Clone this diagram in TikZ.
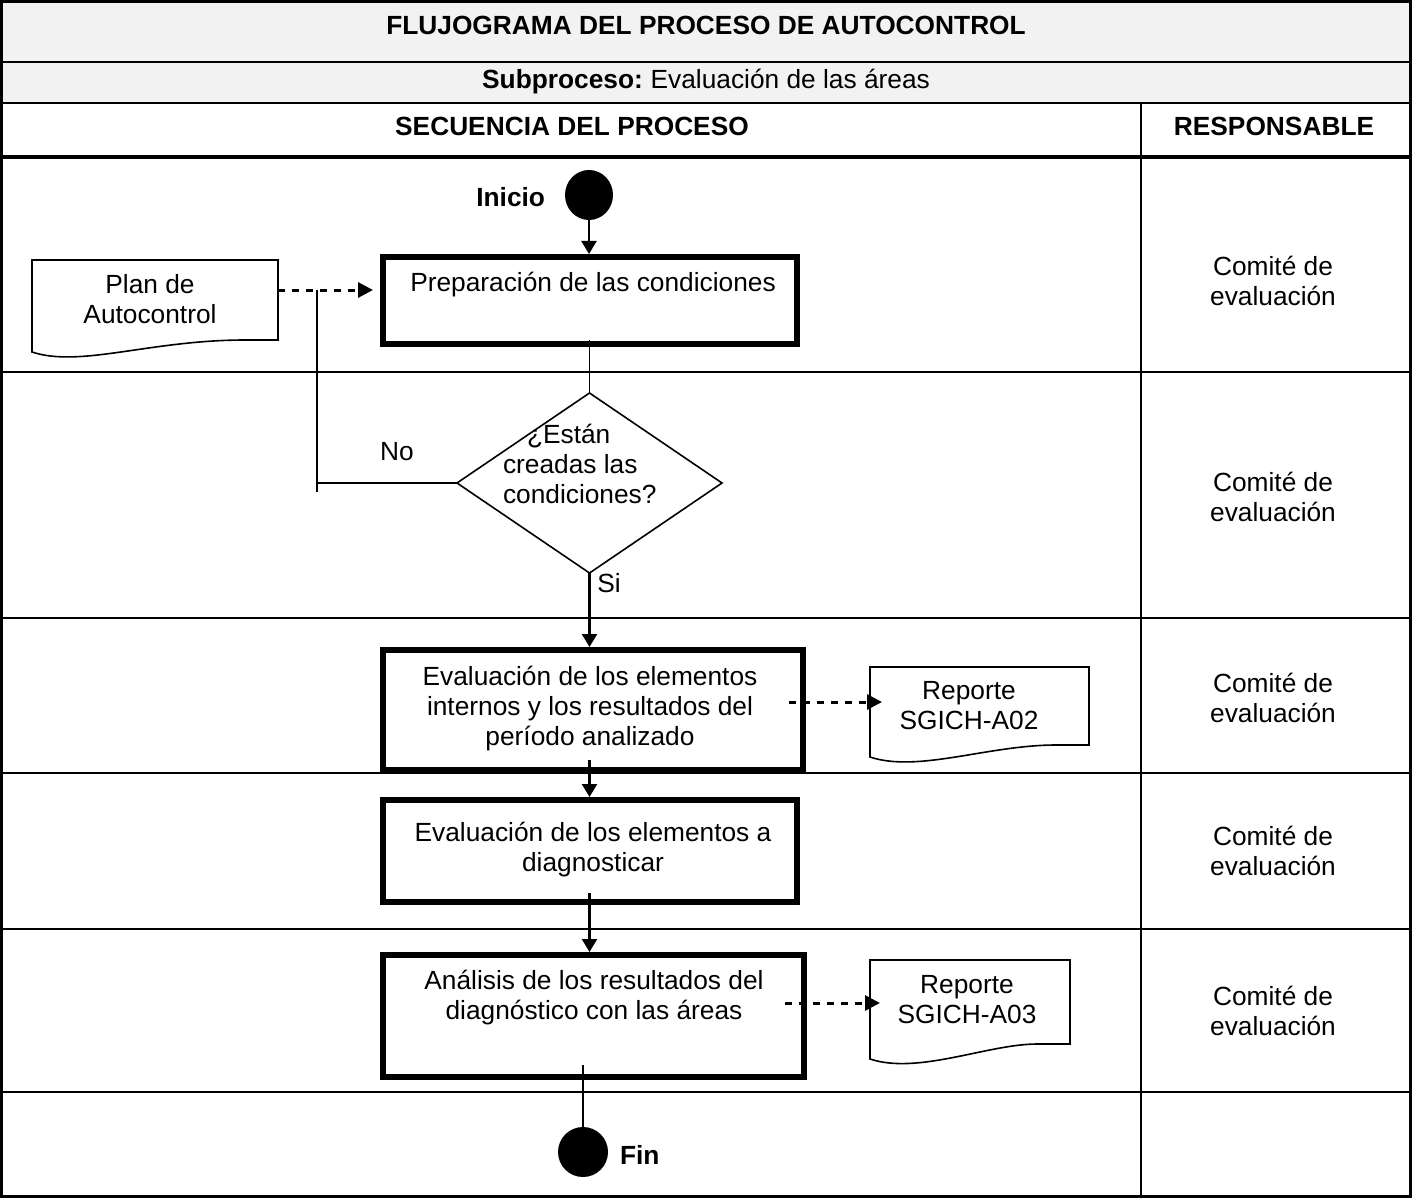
\documentclass[tikz,border=0pt]{standalone}
\usepackage{fontspec}
\setmainfont{Liberation Sans}
\usetikzlibrary{shapes.geometric,calc,arrows.meta}

\definecolor{headgray}{RGB}{242,242,242}

\begin{document}
\begin{tikzpicture}[x=1pt,y=-1pt,
  every node/.style={font=\fontsize{26.3}{30}\selectfont, inner sep=0pt, outer sep=0pt, align=center},
  bold/.style={font=\fontsize{26.3}{30}\selectfont\bfseries},
  gridline/.style={line width=2.4pt},
  stepbox/.style={draw, rectangle, line width=6pt, outer sep=3pt},
  docshape/.style={rectangle, draw=none},
  docline/.style={line width=1.6pt, line join=miter},
  decision/.style={draw, diamond, line width=1.6pt, inner sep=0pt},
  terminal/.style={ellipse, fill=black, draw=none},
  flow/.style={line width=2.3pt, -{Triangle[length=13pt,width=15pt]}},
  dflow/.style={line width=3pt, dash pattern=on 7pt off 7pt, -{Triangle[length=15pt,width=15pt]}},
  plainline/.style={line width=1.6pt},
]
\useasboundingbox (0,0) rectangle (1412,1198);

% ---------- table ----------
\fill[headgray] (0,0) rectangle (1412,103);
\draw[line width=3pt] (1.5,1.5) rectangle (1410.5,1196.5);
\draw[line width=2.6pt] (0,62) -- (1412,62);
\draw[line width=2.6pt] (0,103) -- (1412,103);
\draw[line width=4pt] (0,157) -- (1412,157);
\draw[gridline] (1141,103) -- (1141,1198);
\foreach \yy in {372,618,773,929,1092}
  \draw[gridline] (0,\yy) -- (1412,\yy);

\node[bold] (title) at (706,25) {FLUJOGRAMA DEL PROCESO DE AUTOCONTROL};
\node (sub) at (706,82) {\textbf{Subproceso:}\hspace{-2pt} Evaluación de las áreas};
\node[bold] (hseq) at (572,126) {SECUENCIA DEL PROCESO};
\node[bold] (hresp) at (1274,126) {RESPONSABLE};

% ---------- responsible ----------
\node (r1) at (1273,281) {Comité de\\evaluación};
\node (r2) at (1273,497) {Comité de\\evaluación};
\node (r3) at (1273,698) {Comité de\\evaluación};
\node (r4) at (1273,851) {Comité de\\evaluación};
\node (r5) at (1273,1011) {Comité de\\evaluación};

% ---------- flow ----------
\node[terminal, minimum width=48pt, minimum height=50pt] (inicio) at (589,195) {};
\node[bold, anchor=east] (inicioL) at (545,197) {Inicio};

\node[stepbox, minimum width=414pt, minimum height=87pt] (box1) at (590,300.5) {};
\node (t1) at (593,285) {Preparación de las condiciones};

\node[docshape, minimum width=246pt, minimum height=80pt] (plan) at (155,300) {};
\node (plant) at (150,299) {Plan de\\Autocontrol};

\node[decision, minimum width=265pt, minimum height=180pt] (dec) at (589.5,483) {};
\node[anchor=west, align=left] (dect) at (503,464) {\hspace*{24pt}¿Están\\creadas las\\condiciones?};
\node (no) at (397,452) {No};
\node (si) at (609,583) {Si};

\node[stepbox, minimum width=420pt, minimum height=120pt] (box3) at (593,710) {};
\node (t3) at (590,709) {Evaluación de los elementos\\internos y los resultados del\\período analizado};

\node[docshape, minimum width=219pt, minimum height=78pt] (rep2) at (979.5,706) {};
\node (rep2t) at (969,706) {Reporte\\SGICH-A02};

\node[stepbox, minimum width=414pt, minimum height=102pt] (box4) at (590,851) {};
\node (t4) at (593,850) {Evaluación de los elementos a\\diagnosticar};

\node[stepbox, minimum width=421pt, minimum height=122pt] (box5) at (593.5,1016) {};
\node (t5) at (594,997.5) {Análisis de los resultados del\\diagnóstico con las áreas};

\node[docshape, minimum width=200pt, minimum height=84pt] (rep3) at (970,1002) {};
\node (rep3t) at (967,1000) {Reporte\\SGICH-A03};

\node[terminal, minimum width=50pt, minimum height=50pt] (fin) at (583,1152) {};
\node[bold, anchor=west] (finL) at (620,1155) {Fin};

% document outlines with wavy bottom edge
\foreach \d/\drop in {plan/12, rep2/12, rep3/15}
  \draw[docline] (\d.south east) -- (\d.north east) -- (\d.north west)
    -- ($(\d.south west)+(0,\drop)$)
    .. controls ($(\d.south west)+(48,\drop+16)$) and ($(\d.south west)+(118,0)$)
    .. ($(\d.south east)+(-33,0)$) -- cycle;

% ---------- connectors ----------
\draw[flow] (inicio.south) -- (inicio.south |- box1.north);
\draw[plainline] ($(box1.south -| dec.north)+(0,-7)$) -- (dec.north);
\draw[flow] (dec.south) -- (dec.south |- box3.north);
\draw[flow] ($(box3.south -| dec.south)+(0,-13)$) -- (dec.south |- box4.north);
\draw[flow] ($(box4.south -| dec.south)+(0,-12)$) -- (dec.south |- box5.north);
\draw[plainline] ($(box5.south -| fin.north)+(0,-15)$) -- (fin.north);

\coordinate (pa) at ($(plan.east)+(0,-10)$);
\draw[dflow] (pa) -- ($(pa -| box1.west)+(-7,0)$);
\coordinate (nox) at ($(pa)+(39,0)$);
\draw[plainline] (dec.west) -- (dec.west -| nox);
\draw[plainline] ($(dec.west -| nox)+(0,9)$) -- (nox);

\coordinate (b3a) at ($(box3.east)+(-17,-8)$);
\draw[dflow] (b3a) -- ($(b3a -| rep2.west)+(12,0)$);
\coordinate (b5a) at ($(box5.east)+(-22,-13)$);
\draw[dflow] (b5a) -- ($(b5a -| rep3.west)+(10,0)$);
\end{tikzpicture}
\end{document}
